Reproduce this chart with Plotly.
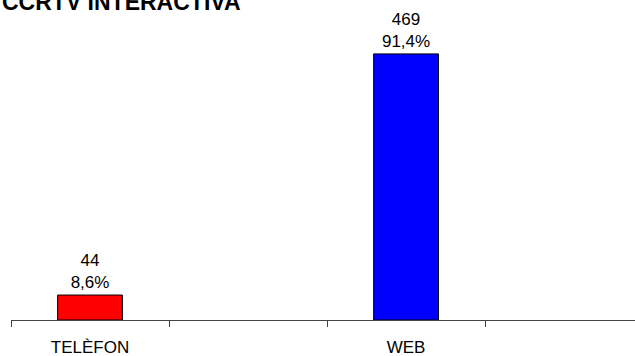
import plotly.graph_objects as go

# Response channel counts (blank slots keep the category spacing)
categories = ["TELÈFON", " ", "WEB", "  "]
counts = [44, None, 469, None]
shares = ["8,6%", None, "91,4%", None]
bar_colors = ["#ff0000", "#ffffff", "#0000ff", "#ffffff"]

labels = [f"{c}<br>{s}" if c is not None else "" for c, s in zip(counts, shares)]

font_family = "Liberation Sans, Arial, sans-serif"

fig = go.Figure(
    go.Bar(
        x=categories,
        y=counts,
        text=labels,
        textposition="outside",
        textfont=dict(family=font_family, size=17, color="#000000"),
        marker=dict(color=bar_colors, line=dict(color="#000000", width=1)),
        cliponaxis=False,
    )
)

fig.update_layout(
    width=635,
    height=356,
    margin=dict(l=11, r=0, t=0, b=36),
    paper_bgcolor="#ffffff",
    plot_bgcolor="#ffffff",
    bargap=0.59,
    showlegend=False,
    font=dict(family=font_family, color="#000000"),
    annotations=[
        dict(
            text="<b>CCRTV INTERACTIVA</b>",
            xref="paper", yref="paper",
            x=-11 / 624, y=0.993,
            xanchor="left", yanchor="middle",
            showarrow=False,
            font=dict(family=font_family, size=23, color="#000000"),
        )
    ],
)

fig.update_xaxes(
    type="category",
    range=[-0.5, 3.449],
    tickson="boundaries",
    ticks="outside",
    ticklen=6,
    tickcolor="#444444",
    showline=True,
    linecolor="#444444",
    linewidth=1,
    showgrid=False,
    zeroline=False,
    ticklabelstandoff=12,
    tickfont=dict(family=font_family, size=17, color="#000000"),
)

fig.update_yaxes(
    range=[0, 564],
    visible=False,
    showgrid=False,
    zeroline=False,
)

fig.write_html("out.html")
